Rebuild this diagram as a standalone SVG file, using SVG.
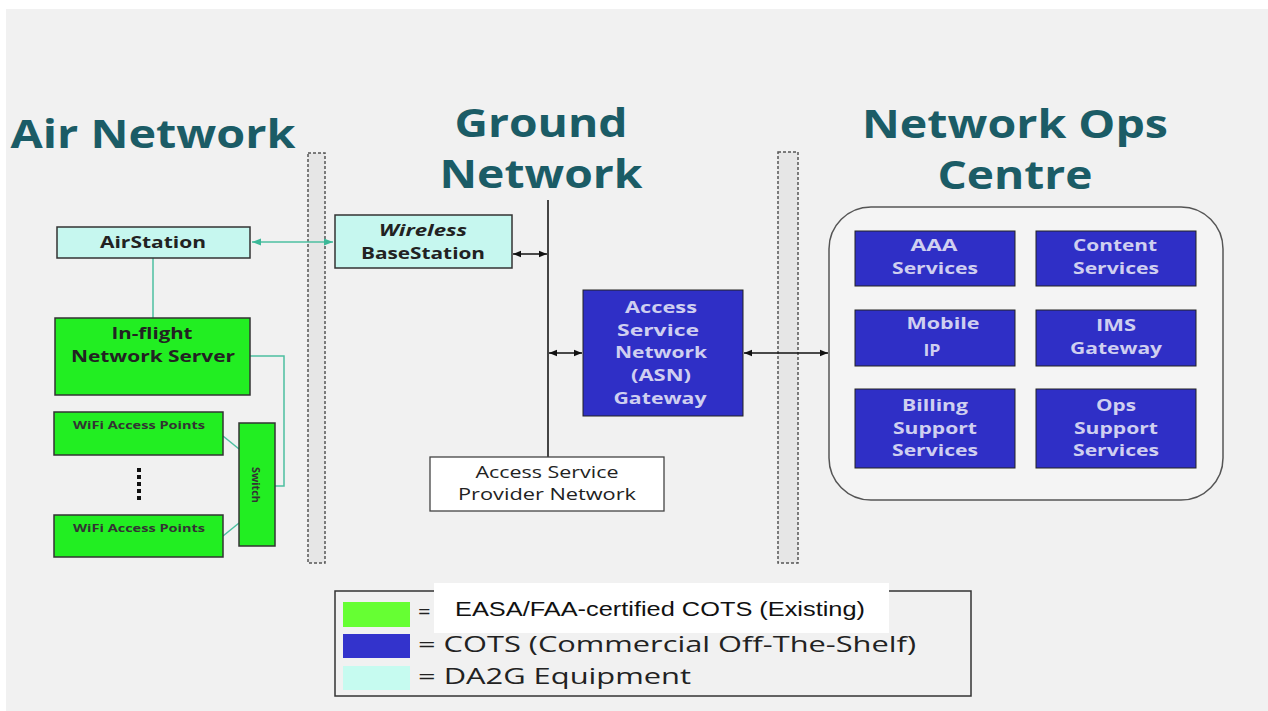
<svg xmlns="http://www.w3.org/2000/svg" width="1268" height="711" viewBox="0 0 1268 711">
<defs>
<style>
.title{font-family:"Open Sans","Liberation Sans",sans-serif;font-weight:bold;font-size:39px;fill:#1b5c66;text-anchor:middle}
.box{stroke:#333;stroke-width:1.5}
.cyan{fill:#c6f7ef}
.green{fill:#22ee22}
.blue{fill:#2f2fc6;stroke:#222;stroke-width:1}
.bt{font-family:"Open Sans","Liberation Sans",sans-serif;font-weight:bold;font-size:16px;fill:#222;text-anchor:middle}
.wt{font-family:"Open Sans","Liberation Sans",sans-serif;font-weight:bold;font-size:16px;fill:#cfcff0;text-anchor:middle}
.st{font-family:"Open Sans","Liberation Sans",sans-serif;font-weight:bold;font-size:11px;fill:#333;text-anchor:middle}
.nt{font-family:"Open Sans","Liberation Sans",sans-serif;font-size:16px;fill:#222;text-anchor:middle}
.lg{font-family:"Open Sans","Liberation Sans",sans-serif;font-size:22px;fill:#222}
.sep{fill:#e6e6e6;stroke:#555;stroke-width:1.5;stroke-dasharray:3 2}
.conn{stroke:#111;stroke-width:1.3;fill:none}
.tealc{stroke:#4cbfa0;stroke-width:1.5;fill:none}
</style>
<marker id="ah" viewBox="0 0 10 10" refX="10" refY="5" markerWidth="8" markerHeight="8" markerUnits="userSpaceOnUse" orient="auto-start-reverse"><path d="M0,1 L10,5 L0,9 z" fill="#111"/></marker>
<marker id="aht" viewBox="0 0 10 10" refX="10" refY="5" markerWidth="9" markerHeight="9" markerUnits="userSpaceOnUse" orient="auto-start-reverse"><path d="M0,1 L10,5 L0,9 z" fill="#3cb898"/></marker>
</defs>
<rect x="0" y="0" width="1268" height="711" fill="#ffffff"/>
<rect x="6" y="9" width="1262" height="702" fill="#f1f1f1"/>

<g id="titles">
<text class="title" x="153" y="148" textLength="285" lengthAdjust="spacingAndGlyphs">Air Network</text>
<text class="title" x="541" y="137" textLength="173" lengthAdjust="spacingAndGlyphs">Ground</text>
<text class="title" x="541" y="188" textLength="203" lengthAdjust="spacingAndGlyphs">Network</text>
<text class="title" x="1015" y="138" textLength="306" lengthAdjust="spacingAndGlyphs">Network Ops</text>
<text class="title" x="1015" y="189" textLength="155" lengthAdjust="spacingAndGlyphs">Centre</text>
</g>

<g id="separators">
<rect class="sep" x="308" y="153" width="17" height="410"/>
<rect class="sep" x="778" y="152" width="20" height="411"/>
</g>

<g id="noc-container">
<rect x="829" y="207" width="394" height="293" rx="42" ry="42" fill="#f4f4f4" stroke="#555" stroke-width="1.5"/>
</g>

<g id="connectors">
<line class="tealc" x1="252" y1="242" x2="333" y2="242" marker-start="url(#aht)" marker-end="url(#aht)"/>
<line class="tealc" x1="153" y1="258" x2="153" y2="318"/>
<polyline class="tealc" points="250,356 284,356 284,486 275,486"/>
<line class="tealc" x1="223" y1="436" x2="239" y2="449"/>
<line class="tealc" x1="223" y1="536" x2="239" y2="523"/>
<line x1="548" y1="200" x2="548" y2="457" stroke="#444" stroke-width="2"/>
<line class="conn" x1="513" y1="254" x2="547" y2="254" marker-start="url(#ah)" marker-end="url(#ah)"/>
<line class="conn" x1="549" y1="353" x2="582" y2="353" marker-start="url(#ah)" marker-end="url(#ah)"/>
<line class="conn" x1="744" y1="353" x2="828" y2="353" marker-start="url(#ah)" marker-end="url(#ah)"/>
</g>

<g id="airstation">
<rect class="box cyan" x="57" y="227" width="193" height="31"/>
<text class="bt" x="153" y="248" textLength="106" lengthAdjust="spacingAndGlyphs">AirStation</text>
</g>

<g id="basestation">
<rect class="box cyan" x="335" y="215" width="177" height="53"/>
<text class="bt" x="423" y="236" font-style="italic" textLength="88" lengthAdjust="spacingAndGlyphs">Wireless</text>
<text class="bt" x="423" y="259" textLength="124" lengthAdjust="spacingAndGlyphs">BaseStation</text>
</g>

<g id="inflight-server">
<rect class="box green" x="55" y="318" width="195" height="77"/>
<text class="bt" x="152" y="339" textLength="81" lengthAdjust="spacingAndGlyphs">In-flight</text>
<text class="bt" x="153" y="362" textLength="164" lengthAdjust="spacingAndGlyphs">Network Server</text>
</g>

<g id="wifi1">
<rect class="box green" x="54" y="412" width="169" height="43"/>
<text class="st" x="139" y="429" textLength="132" lengthAdjust="spacingAndGlyphs">WiFi Access Points</text>
</g>

<g id="dots">
<line x1="139" y1="468" x2="139" y2="503" stroke="#111" stroke-width="4" stroke-dasharray="4 3"/>
</g>

<g id="wifi2">
<rect class="box green" x="54" y="515" width="169" height="42"/>
<text class="st" x="139" y="532" textLength="132" lengthAdjust="spacingAndGlyphs">WiFi Access Points</text>
</g>

<g id="switch">
<rect class="box green" x="239" y="423" width="36" height="123"/>
<text class="st" font-weight="normal" font-size="12" transform="translate(252 485) rotate(90)" textLength="36" lengthAdjust="spacingAndGlyphs">Switch</text>
</g>

<g id="asn-gateway">
<rect class="blue" x="583" y="290" width="160" height="126"/>
<text class="wt" x="661" y="313" textLength="72" lengthAdjust="spacingAndGlyphs">Access</text>
<text class="wt" x="658" y="336" textLength="82" lengthAdjust="spacingAndGlyphs">Service</text>
<text class="wt" x="661" y="358" textLength="92" lengthAdjust="spacingAndGlyphs">Network</text>
<text class="wt" x="661" y="381" textLength="60" lengthAdjust="spacingAndGlyphs">(ASN)</text>
<text class="wt" x="660" y="404" textLength="93" lengthAdjust="spacingAndGlyphs">Gateway</text>
</g>

<g id="asp-network">
<rect x="430" y="457" width="234" height="54" fill="#ffffff" stroke="#444" stroke-width="1.3"/>
<text class="nt" x="547" y="478" textLength="143" lengthAdjust="spacingAndGlyphs">Access Service</text>
<text class="nt" x="547" y="500" textLength="178" lengthAdjust="spacingAndGlyphs">Provider Network</text>
</g>

<g id="aaa">
<rect class="blue" x="855" y="231" width="160" height="55"/>
<text class="wt" x="934" y="251" textLength="47" lengthAdjust="spacingAndGlyphs">AAA</text>
<text class="wt" x="935" y="274" textLength="86" lengthAdjust="spacingAndGlyphs">Services</text>
</g>
<g id="content">
<rect class="blue" x="1036" y="231" width="160" height="55"/>
<text class="wt" x="1115" y="251" textLength="84" lengthAdjust="spacingAndGlyphs">Content</text>
<text class="wt" x="1116" y="274" textLength="86" lengthAdjust="spacingAndGlyphs">Services</text>
</g>
<g id="mobile-ip">
<rect class="blue" x="855" y="310" width="160" height="56"/>
<text class="wt" x="943" y="329" textLength="73" lengthAdjust="spacingAndGlyphs">Mobile</text>
<text class="wt" x="932" y="356" textLength="17" lengthAdjust="spacingAndGlyphs">IP</text>
</g>
<g id="ims">
<rect class="blue" x="1036" y="310" width="160" height="56"/>
<text class="wt" x="1116" y="331" textLength="40" lengthAdjust="spacingAndGlyphs">IMS</text>
<text class="wt" x="1116" y="354" textLength="92" lengthAdjust="spacingAndGlyphs">Gateway</text>
</g>
<g id="billing">
<rect class="blue" x="855" y="389" width="160" height="79"/>
<text class="wt" x="935" y="411" textLength="66" lengthAdjust="spacingAndGlyphs">Billing</text>
<text class="wt" x="935" y="434" textLength="84" lengthAdjust="spacingAndGlyphs">Support</text>
<text class="wt" x="935" y="456" textLength="86" lengthAdjust="spacingAndGlyphs">Services</text>
</g>
<g id="ops">
<rect class="blue" x="1036" y="389" width="160" height="79"/>
<text class="wt" x="1116" y="411" textLength="40" lengthAdjust="spacingAndGlyphs">Ops</text>
<text class="wt" x="1116" y="434" textLength="84" lengthAdjust="spacingAndGlyphs">Support</text>
<text class="wt" x="1116" y="456" textLength="86" lengthAdjust="spacingAndGlyphs">Services</text>
</g>

<g id="legend">
<rect x="335" y="591" width="636" height="105" fill="#f1f1f1" stroke="#333" stroke-width="1.5"/>
<rect x="434" y="583" width="455" height="50" fill="#ffffff"/>
<rect x="343" y="602" width="67" height="25" fill="#66ff33"/>
<rect x="343" y="634" width="67" height="24" fill="#3333cc"/>
<rect x="343" y="666" width="67" height="24" fill="#c6fbf0"/>
<text class="lg" x="418" y="619">=</text>
<text x="455" y="616" font-family="Liberation Sans, Arial, sans-serif" font-size="21" fill="#111" textLength="410" lengthAdjust="spacingAndGlyphs">EASA/FAA-certified COTS (Existing)</text>
<text class="lg" x="418" y="652" textLength="498" lengthAdjust="spacingAndGlyphs">= COTS (Commercial Off-The-Shelf)</text>
<text class="lg" x="418" y="684" textLength="273" lengthAdjust="spacingAndGlyphs">= DA2G Equipment</text>
</g>
</svg>
